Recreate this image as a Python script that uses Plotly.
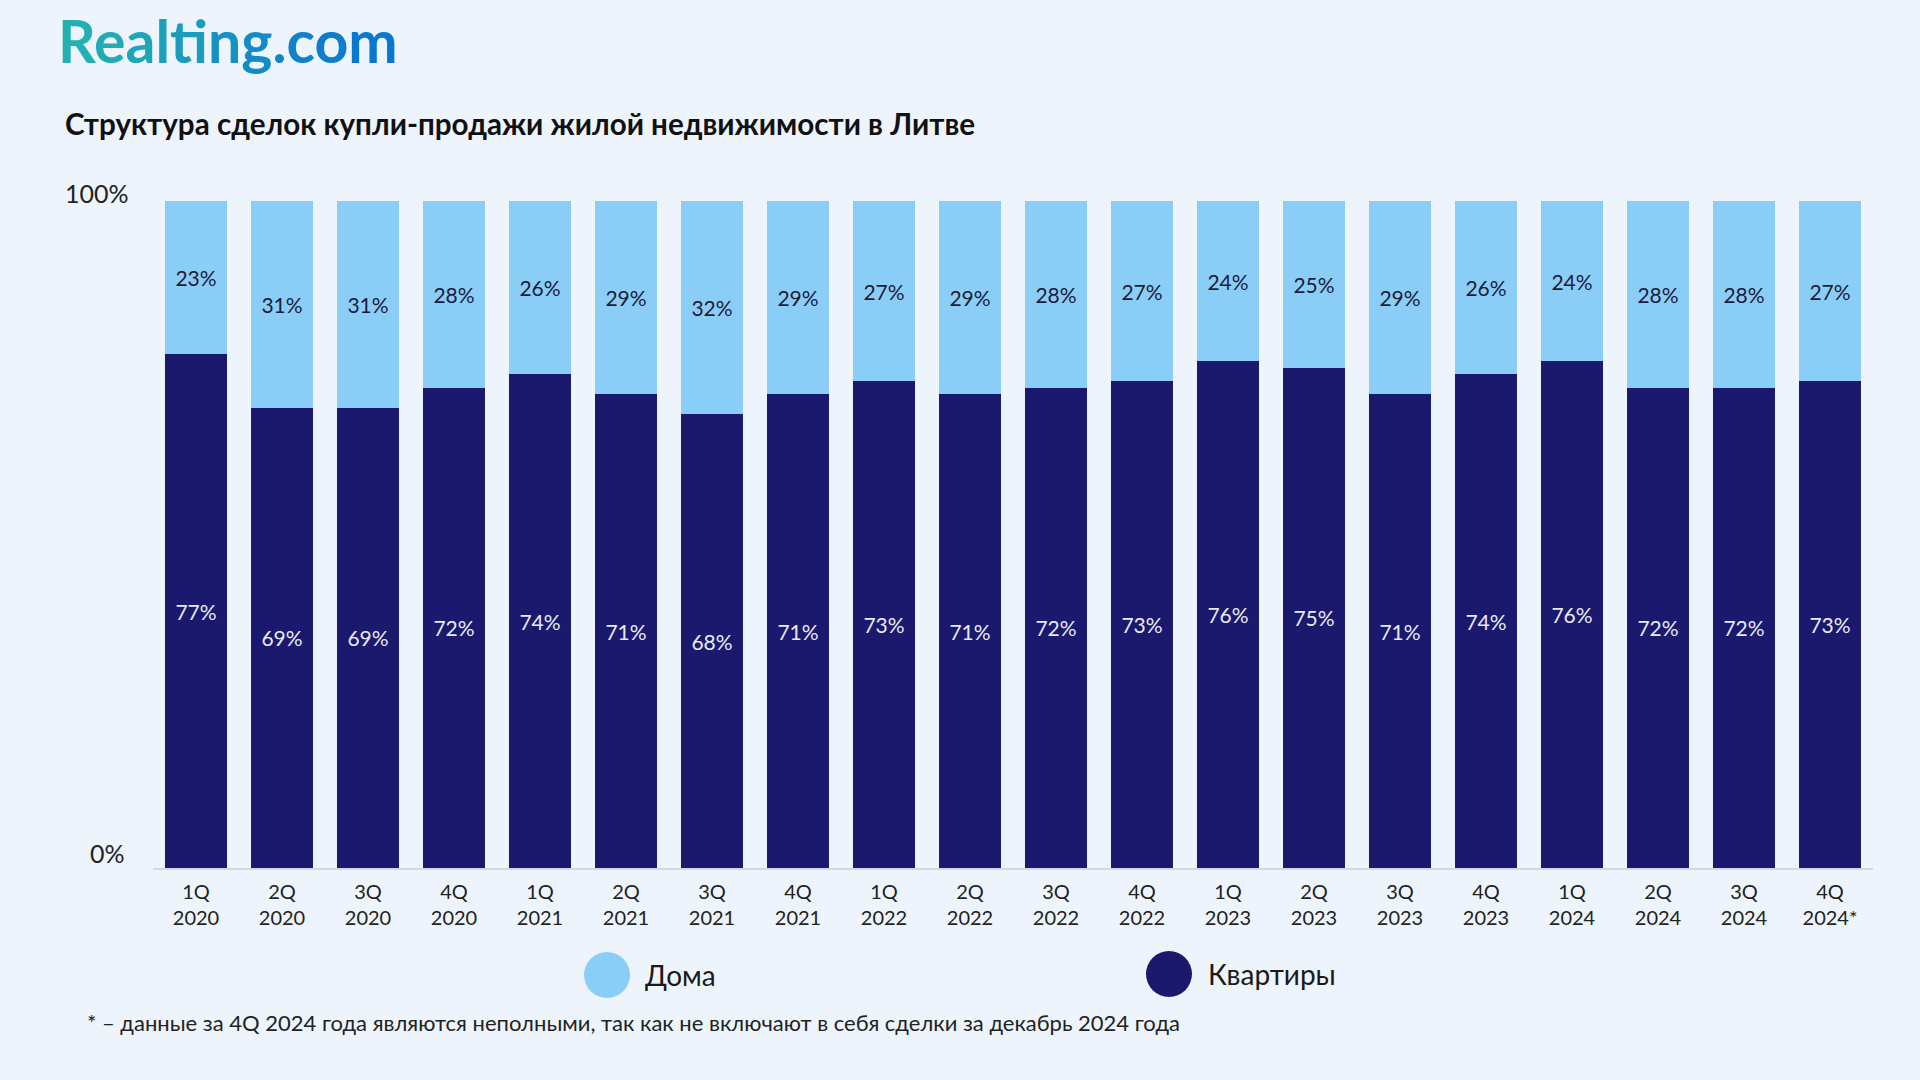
import plotly.graph_objects as go

# ---- data ----
quarters = ["1Q", "2Q", "3Q", "4Q"] * 5
years = ["2020"] * 4 + ["2021"] * 4 + ["2022"] * 4 + ["2023"] * 4 + ["2024"] * 3 + ["2024*"]
houses = [23, 31, 31, 28, 26, 29, 32, 29, 27, 29, 28, 27, 24, 25, 29, 26, 24, 28, 28, 27]
apartments = [77, 69, 69, 72, 74, 71, 68, 71, 73, 71, 72, 73, 76, 75, 71, 74, 76, 72, 72, 73]
series_names = ["Дома", "Квартиры"]
title_text = "Структура сделок купли-продажи жилой недвижимости в Литве"
footnote_text = "* – данные за 4Q 2024 года являются неполными, так как не включают в себя сделки за декабрь 2024 года"
logo_text = "Realting.com"

categories = [f"{q}<br>{y}" for q, y in zip(quarters, years)]

# ---- style ----
W, H = 1920, 1080
BG = "#EEF4FB"
DARK = "#1B196E"
LIGHT = "#8ACEF8"
FONT = "Lato"
L, R, T, B = 153, 1873, 201, 868  # plot area in pixels


def px2x(px):
    return (px - L) / (R - L)


def px2y(py):
    return (B - py) / (B - T)


fig = go.Figure()
fig.add_trace(go.Bar(
    x=categories, y=apartments, name=series_names[1],
    marker=dict(color=DARK, line=dict(width=0)),
    text=[f"{v}%" for v in apartments], textposition="inside",
    insidetextanchor="middle", textangle=0, constraintext="none",
    textfont=dict(family=FONT, size=21, color="#E8EAF4"),
))
fig.add_trace(go.Bar(
    x=categories, y=houses, name=series_names[0],
    marker=dict(color=LIGHT, line=dict(width=0)),
    text=[f"{v}%" for v in houses], textposition="inside",
    insidetextanchor="middle", textangle=0, constraintext="none",
    textfont=dict(family=FONT, size=21, color="#1C1C3A"),
))

# logo with gradient colours per letter
c0 = (0x22, 0xB0, 0xB2)
c1 = (0x0B, 0x78, 0xD0)
spans = []
n = len(logo_text)
for i, ch in enumerate(logo_text):
    t = i / (n - 1)
    col = tuple(round(a + (b - a) * t) for a, b in zip(c0, c1))
    spans.append(f'<span style="color:rgb{col}">{ch}</span>')
logo_html = "<b>" + "".join(spans) + "</b>"

annotations = [
    dict(text=logo_html, xref="paper", yref="paper", x=px2x(56), y=px2y(41),
         xanchor="left", yanchor="middle", showarrow=False,
         font=dict(family=FONT, size=59, color=f"rgb{c0}")),
    dict(text=f"<b>{title_text}</b>", xref="paper", yref="paper", x=px2x(63), y=px2y(124),
         xanchor="left", yanchor="middle", showarrow=False,
         font=dict(family=FONT, size=29.6, color="#111111")),
    dict(text="100%", xref="paper", yref="y", x=px2x(131), y=100, yshift=8,
         xanchor="right", yanchor="middle", showarrow=False,
         font=dict(family=FONT, size=25, color="#222222")),
    dict(text="0%", xref="paper", yref="y", x=px2x(127), y=0, yshift=15,
         xanchor="right", yanchor="middle", showarrow=False,
         font=dict(family=FONT, size=25, color="#222222")),
    dict(text=series_names[0], xref="paper", yref="paper", x=px2x(643), y=px2y(975),
         xanchor="left", yanchor="middle", showarrow=False,
         font=dict(family=FONT, size=28, color="#1a1a1a")),
    dict(text=series_names[1], xref="paper", yref="paper", x=px2x(1206), y=px2y(974),
         xanchor="left", yanchor="middle", showarrow=False,
         font=dict(family=FONT, size=28, color="#1a1a1a")),
    dict(text=footnote_text, xref="paper", yref="paper", x=px2x(85), y=px2y(1022),
         xanchor="left", yanchor="middle", showarrow=False,
         font=dict(family=FONT, size=22, color="#222222")),
]

shapes = [
    dict(type="circle", xref="paper", yref="paper", xsizemode="pixel", ysizemode="pixel",
         xanchor=px2x(607), yanchor=px2y(975), x0=-23, x1=23, y0=-23, y1=23,
         fillcolor=LIGHT, line=dict(width=0)),
    dict(type="circle", xref="paper", yref="paper", xsizemode="pixel", ysizemode="pixel",
         xanchor=px2x(1169), yanchor=px2y(974), x0=-23, x1=23, y0=-23, y1=23,
         fillcolor=DARK, line=dict(width=0)),
]

fig.update_layout(
    width=W, height=H,
    margin=dict(l=L, r=W - R, t=T, b=H - B, pad=0),
    paper_bgcolor=BG, plot_bgcolor=BG,
    barmode="stack", bargap=0.29,
    showlegend=False,
    annotations=annotations, shapes=shapes,
    font=dict(family=FONT),
    xaxis=dict(showline=True, linecolor="#D3D9E2", linewidth=2, ticks="",
               showgrid=False, zeroline=False, fixedrange=True,
               ticklabelstandoff=5,
               tickfont=dict(family=FONT, size=20, color="#222222")),
    yaxis=dict(range=[0, 100], showticklabels=False, showgrid=False,
               zeroline=False, showline=False, fixedrange=True),
)

fig.write_html(
    "out.html",
    config={"displayModeBar": False},
    post_script=(
        "document.body.style.margin='0';document.body.style.padding='0';"
        "document.body.style.overflow='hidden';"
        f"document.body.style.background='{BG}';"
    ),
)
